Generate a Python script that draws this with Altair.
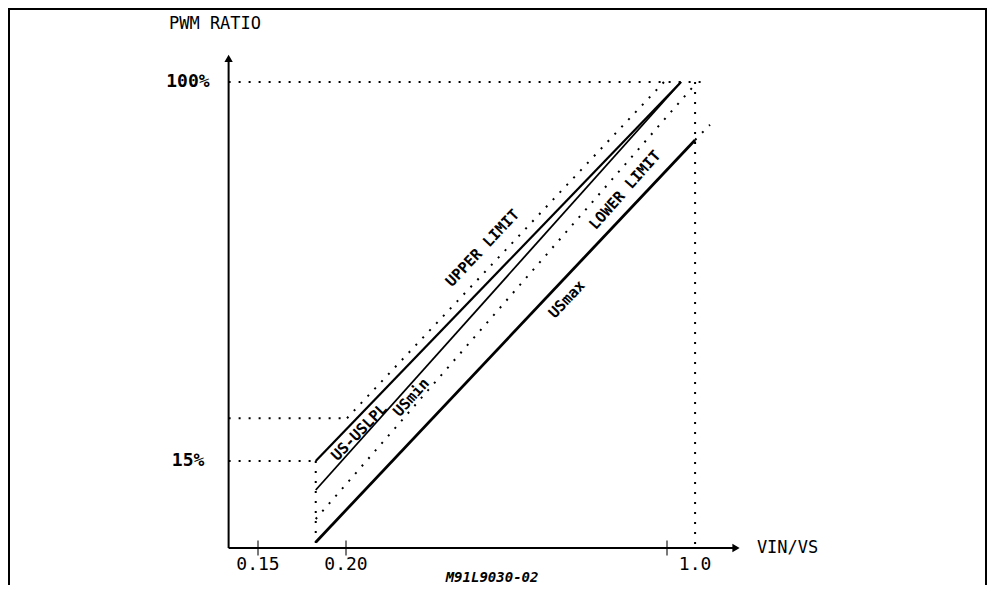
import altair as alt
import pandas as pd

# ---- schematic data (x: VIN/VS, y: PWM ratio %) ----
x_ticks = [0.15, 0.20, 1.0]
x_tick_labels = ["0.15", "0.20", "1.0"]
x_tick_label_x = [0.15, 0.20, 1.07]
y_tick_labels = ["15%", "100%"]
y_tick_vals = [15, 100]

# solid characteristic lines
solid_names = ["US-USLPL", "USmin", "USmax"]
solid_x0 = [0.1828, 0.1828, 0.1828]
solid_y0 = [15, 10, 1]
solid_x1 = [1.035, 1.035, 1.07]
solid_y1 = [100, 100, 87]

# dotted reference / limit lines
dot_names = ["100% level", "upper ref", "15% level", "start", "end", "UPPER LIMIT", "LOWER LIMIT", "USmax ext"]
dot_x0 = [0.1333, 0.1333, 0.1333, 0.1828, 1.07, 0.2025, 0.1828, 1.07]
dot_y0 = [100, 24.6, 15, 15, 100, 24.6, 5, 87]
dot_x1 = [1.102, 0.2025, 0.1828, 0.1828, 1.07, 0.9925, 1.075, 1.107]
dot_y1 = [100, 24.6, 15, 0, 0, 100, 100, 90.4]

# curve labels
ann_text = ["UPPER LIMIT", "LOWER LIMIT", "USmax", "US-USLPL", "USmin"]
ann_x = [0.540, 0.895, 0.750, 0.2324, 0.3623]
ann_y = [62.8, 75.8, 51.3, 21.5, 29.3]
ann_angle = [313.3, 311.3, 313.2, 313.9, 311.8]

x_origin = 0.1333
x_arrow = 1.172
y_arrow = 105.3

FONT = "DejaVu Sans Mono"
W, H = 979, 577

xs = alt.Scale(domain=[0.15, 0.20, 1.0], range=[250, 338, 659], nice=False, zero=False)
ys = alt.Scale(domain=[0, 15, 100], range=[540, 453, 74], nice=False, zero=False)


def X(f):
    return alt.X(f, type="quantitative", scale=xs, axis=None)


def Y(f):
    return alt.Y(f, type="quantitative", scale=ys, axis=None)


solid_df = pd.DataFrame({"name": solid_names, "x0": solid_x0, "y0": solid_y0, "x1": solid_x1, "y1": solid_y1})
dot_df = pd.DataFrame({"name": dot_names, "x0": dot_x0, "y0": dot_y0, "x1": dot_x1, "y1": dot_y1})
ann_df = pd.DataFrame({"t": ann_text, "x": ann_x, "y": ann_y, "a": ann_angle})

dotted = alt.Chart(dot_df).mark_rule(color="black", strokeWidth=2, strokeDash=[2, 8]).encode(
    x=X("x0"), y=Y("y0"), x2="x1", y2="y1")


def solid_layer(name, width):
    return alt.Chart(solid_df[solid_df["name"] == name]).mark_rule(color="black", strokeWidth=width).encode(
        x=X("x0"), y=Y("y0"), x2="x1", y2="y1")


solid_a = solid_layer("US-USLPL", 2.2)
solid_b = solid_layer("USmin", 1.8)
solid_c = solid_layer("USmax", 2.8)

axes_df = pd.DataFrame({"x0": [x_origin, x_origin], "y0": [0, 0], "x1": [x_arrow, x_origin], "y1": [0, y_arrow]})
axes = alt.Chart(axes_df).mark_rule(color="black", strokeWidth=2).encode(
    x=X("x0"), y=Y("y0"), x2="x1", y2="y1")

arrows_df = pd.DataFrame({"x": [x_origin, x_arrow], "y": [y_arrow, 0], "s": ["triangle-up", "triangle-right"]})
arrows = alt.Chart(arrows_df).mark_point(filled=True, color="black", opacity=1, size=70).encode(
    x=X("x"), y=Y("y"), shape=alt.Shape("s:N", scale=None))

ticks_df = pd.DataFrame({"x": x_ticks, "y": [0] * len(x_ticks)})
ticks = alt.Chart(ticks_df).mark_tick(color="black", orient="vertical", size=15, thickness=1.5).encode(
    x=X("x"), y=Y("y"))

xlab_df = pd.DataFrame({"t": x_tick_labels, "x": x_tick_label_x, "y": [-2.93] * 3})
xlab = alt.Chart(xlab_df).mark_text(font=FONT, fontSize=18, color="black", align="center", baseline="middle").encode(
    x=X("x"), y=Y("y"), text="t:N")

ylab_df = pd.DataFrame({"t": y_tick_labels, "x": [0.1195, 0.1225], "y": y_tick_vals})
ylab = alt.Chart(ylab_df).mark_text(font=FONT, fontSize=18, fontWeight="bold", color="black", align="right",
                                    baseline="middle").encode(x=X("x"), y=Y("y"), text="t:N")

titles_df = pd.DataFrame({"t": ["PWM RATIO", "VIN/VS"], "x": [0.0994, 1.224], "y": [113.0, 0]})
titles = alt.Chart(titles_df).mark_text(font=FONT, fontSize=17, color="black", align="left", baseline="middle").encode(
    x=X("x"), y=Y("y"), text="t:N")

code_df = pd.DataFrame({"t": ["M91L9030-02"], "x": [0.564], "y": [-5.17]})
code = alt.Chart(code_df).mark_text(font=FONT, fontSize=14, fontWeight="bold", fontStyle="italic", color="black",
                                    align="center", baseline="middle").encode(x=X("x"), y=Y("y"), text="t:N")

ann = alt.Chart(ann_df).mark_text(font=FONT, fontSize=15, fontWeight="bold", color="black", align="center",
                                  baseline="middle").encode(
    x=X("x"), y=Y("y"), text="t:N", angle=alt.Angle("a:Q", scale=None))

frame_df = pd.DataFrame({"side": ["top", "left", "right"]})
frame_top = alt.Chart(frame_df.iloc[[0]]).mark_rule(color="black", strokeWidth=2).encode(
    x=alt.value(0), x2=alt.value(W), y=alt.value(1))
frame_left = alt.Chart(frame_df.iloc[[1]]).mark_rule(color="black", strokeWidth=2).encode(
    x=alt.value(1), y=alt.value(0), y2=alt.value(H))
frame_right = alt.Chart(frame_df.iloc[[2]]).mark_rule(color="black", strokeWidth=2).encode(
    x=alt.value(W - 1), y=alt.value(0), y2=alt.value(H))

chart = alt.layer(
    frame_top, frame_left, frame_right,
    dotted, solid_a, solid_b, solid_c, axes, arrows, ticks, xlab, ylab, titles, code, ann
).properties(
    width=W, height=H, padding=0, autosize=alt.AutoSizeParams(type="none")
).configure_view(stroke=None).configure(background="white")

chart.save("out.html", embed_options={"renderer": "svg", "actions": False})
